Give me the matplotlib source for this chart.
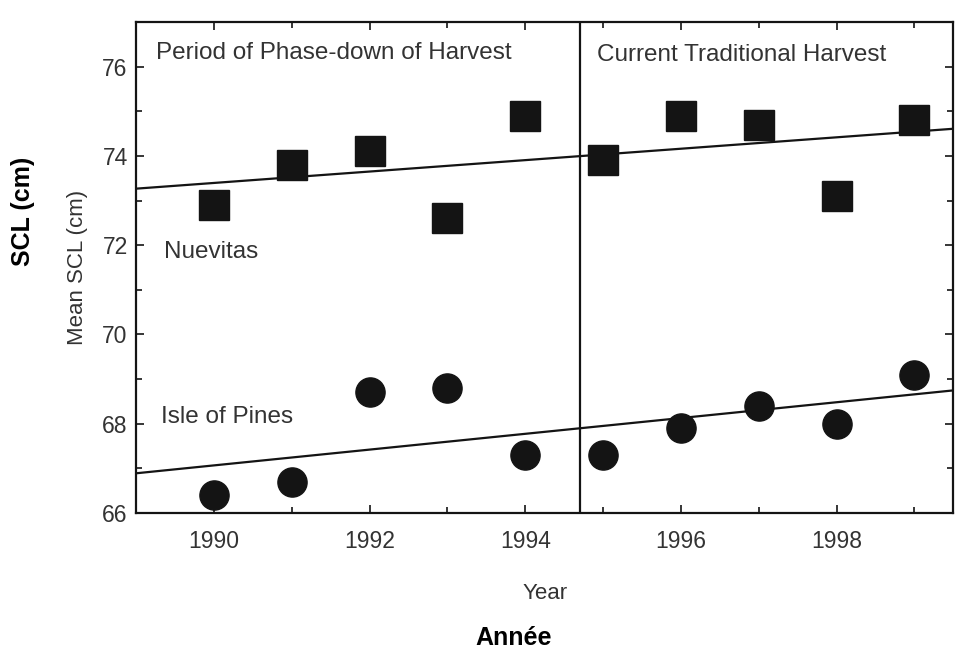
import numpy as np
import matplotlib
matplotlib.use("Agg")
import matplotlib.pyplot as plt
from matplotlib.ticker import MultipleLocator

# Mean SCL per year
years = [1990, 1991, 1992, 1993, 1994, 1995, 1996, 1997, 1998, 1999]
nuevitas = [72.9, 73.8, 74.1, 72.6, 74.9, 73.9, 74.9, 74.7, 73.1, 74.8]
pines = [66.4, 66.7, 68.7, 68.8, 67.3, 67.3, 67.9, 68.4, 68.0, 69.1]
split_year = 1994.7

plt.rcParams['font.family'] = ['Liberation Sans', 'DejaVu Sans']
txt = '#333333'
ink = '#141414'

fig = plt.figure(figsize=(9.65, 6.5), dpi=100)
ax = fig.add_axes([0.141, 0.211, 0.847, 0.755])

ax.plot(years, nuevitas, 's', ms=21, color=ink, mec=ink)
ax.plot(years, pines, 'o', ms=21, color=ink, mec=ink)

# least squares trend lines across the whole axis
xs = np.array([1989, 1999.5])
for ys in (nuevitas, pines):
    k, b = np.polyfit(years, ys, 1)
    ax.plot(xs, k * xs + b, color=ink, lw=1.6)

ax.axvline(split_year, color=ink, lw=1.6)

ax.set_xlim(1989, 1999.5)
ax.set_ylim(66, 77)
ax.xaxis.set_major_locator(MultipleLocator(2))
ax.xaxis.set_minor_locator(MultipleLocator(1))
ax.yaxis.set_major_locator(MultipleLocator(2))
ax.yaxis.set_minor_locator(MultipleLocator(1))
ax.tick_params(which='both', direction='in', top=True, right=True,
               colors=ink, labelcolor=txt, labelsize=16.5, width=1.2)
ax.tick_params(which='major', length=6)
ax.tick_params(which='minor', length=4)
ax.tick_params(axis='x', which='major', pad=12)
ax.tick_params(axis='y', which='major', pad=6)
for sp in ax.spines.values():
    sp.set_linewidth(1.6)
    sp.set_color(ink)

ax.text(1989.25, 76.3, 'Period of Phase-down of Harvest', fontsize=17.5,
        color=txt, va='center')
ax.text(1994.92, 76.27, 'Current Traditional Harvest', fontsize=17.5,
        color=txt, va='center')
ax.text(1989.36, 71.85, 'Nuevitas', fontsize=17.5, color=txt, va='center')
ax.text(1989.32, 68.15, 'Isle of Pines', fontsize=17.5, color=txt,
        va='center')

ax.set_xlabel('Year', fontsize=16, color=txt, labelpad=22)
ax.set_ylabel('Mean SCL (cm)', fontsize=16, color=txt, labelpad=10)

fig.text(0.024, 1 - 211 / 650, 'SCL (cm)', rotation=90, fontsize=18,
         fontweight='bold', ha='center', va='center')
fig.text(0.532, 1 - 638 / 650, 'Année', fontsize=18, fontweight='bold',
         ha='center', va='center')

fig.savefig('out.png', dpi=100)
